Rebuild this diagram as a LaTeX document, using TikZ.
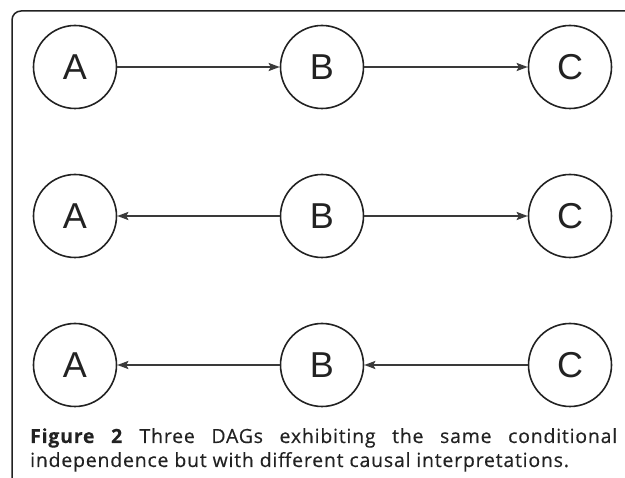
\documentclass[tikz,border=0pt]{standalone}
\usepackage{fontspec}
\setmainfont{Open Sans}
\newfontfamily\capfont[FakeBold=0.4,LetterSpace=4,BoldFeatures={FakeBold=0.3}]{Open Sans}
\newfontfamily\lettfont{Liberation Sans}
\usetikzlibrary{arrows.meta}
\definecolor{ink}{HTML}{222222}
\definecolor{edgeink}{HTML}{3A3A3A}
\tikzset{
  var/.style={circle, draw=ink, line width=1.6pt, minimum size=83pt, inner sep=0pt,
    font=\lettfont\fontsize{36}{36}\selectfont, text=ink},
  edge/.style={draw=edgeink, line width=1.9pt, -{Stealth[length=11pt,width=8pt,inset=2pt]}},
  frame/.style={draw=ink, line width=1.5pt, rounded corners=9pt},
  captext/.style={font=\capfont\fontsize{19.5}{24}\selectfont, text=ink, inner sep=0pt}
}
\begin{document}
\begin{tikzpicture}[x=1pt,y=-1pt]
\useasboundingbox (0,0) rectangle (625,478);
\draw[frame] (12,490) -- (12,11) -- (640,11);
% row 1
\node[var] (a1) at (75,67) {A};
\node[var] (b1) at (322,67) {B};
\node[var] (c1) at (570,67) {C};
\draw[edge] (a1) -- (b1);
\draw[edge] (b1) -- (c1);
% row 2
\node[var] (a2) at (75,216) {A};
\node[var] (b2) at (322,216) {B};
\node[var] (c2) at (570,216) {C};
\draw[edge] (b2) -- (a2);
\draw[edge] (b2) -- (c2);
% row 3
\node[var] (a3) at (75,365) {A};
\node[var] (b3) at (322,365) {B};
\node[var] (c3) at (570,365) {C};
\draw[edge] (b3) -- (a3);
\draw[edge] (c3) -- (b3);
% caption
\node[captext, anchor=base west] (cap1) at (30,443)
  {\makebox[587pt][s]{\textbf{Figure 2} Three DAGs exhibiting the same conditional}};
\node[captext, anchor=base west] (cap2) at (30,467)
  {independence but with different causal interpretations.};
\end{tikzpicture}
\end{document}
